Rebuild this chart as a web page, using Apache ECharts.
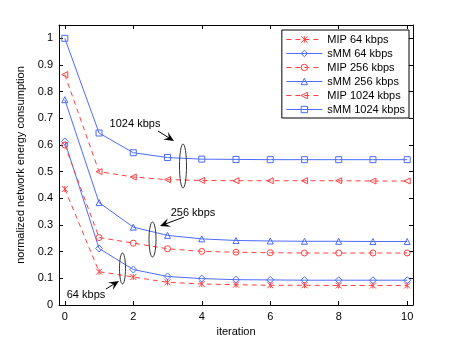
<!DOCTYPE html>
<html>
  <head>
    <meta charset="utf-8" />
    <title>ECharts</title>
    <script src="https://cdn.jsdelivr.net/npm/echarts@6/dist/echarts.min.js"></script>
  </head>
  <body style="margin:0;background:#fff">
    <div id="main" style="width: 457px;height:343px;"></div>
    <script type="text/javascript">
      var myChart = echarts.init(document.getElementById('main'));

      // iteration index
      var iterations = [0, 1, 2, 3, 4, 5, 6, 7, 8, 9, 10];
      var xTicks = [0, 2, 4, 6, 8, 10];
      var yTicks = [0, 0.1, 0.2, 0.3, 0.4, 0.5, 0.6, 0.7, 0.8, 0.9, 1];

      // values
      var mip64 = [0.435, 0.125, 0.105, 0.085, 0.079, 0.076, 0.074, 0.074, 0.073, 0.073, 0.073];
      var smm64 = [0.613, 0.212, 0.133, 0.107, 0.099, 0.095, 0.094, 0.093, 0.093, 0.093, 0.093];
      var mip256 = [0.600, 0.253, 0.232, 0.211, 0.201, 0.198, 0.196, 0.195, 0.195, 0.195, 0.195];
      var smm256 = [0.770, 0.384, 0.292, 0.261, 0.248, 0.242, 0.240, 0.239, 0.239, 0.238, 0.238];
      var mip1024 = [0.864, 0.500, 0.480, 0.470, 0.467, 0.466, 0.466, 0.466, 0.466, 0.465, 0.465];
      var smm1024 = [1.000, 0.645, 0.571, 0.553, 0.547, 0.546, 0.545, 0.545, 0.545, 0.545, 0.545];

      var red = '#ff4040';
      var blue = '#4d6bff';
      var font = 'Liberation Sans';

      function pairs(arr) {
        return iterations.map(function (x, i) { return [x, arr[i]]; });
      }

      // hollow markers, the line shows through them like in matlab
      function mk(name, data, color, dashed, symbol, size, rotate) {
        return {
          name: name,
          type: 'line',
          data: pairs(data),
          symbol: symbol,
          symbolSize: size,
          symbolRotate: rotate || 0,
          showAllSymbol: true,
          animation: false,
          lineStyle: { color: color, width: 1, type: dashed ? [5, 4] : 'solid' },
          itemStyle: { color: 'rgba(0,0,0,0)', borderColor: color, borderWidth: 1 },
          z: 3
        };
      }

      // arrow helper for the annotations
      function arrow(x1, y1, x2, y2) {
        var a = Math.atan2(y2 - y1, x2 - x1);
        var L = 10, W = 4.5;
        var bx = x2 - L * Math.cos(a), by = y2 - L * Math.sin(a);
        var mx = x2 - L * 0.6 * Math.cos(a), my = y2 - L * 0.6 * Math.sin(a);
        return [
          { type: 'line', shape: { x1: x1, y1: y1, x2: mx, y2: my }, style: { stroke: '#000', lineWidth: 1 } },
          { type: 'polygon', shape: { points: [
            [x2, y2],
            [bx - W * Math.sin(a), by + W * Math.cos(a)],
            [mx, my],
            [bx + W * Math.sin(a), by - W * Math.cos(a)]
          ] }, style: { fill: '#000' } }
        ];
      }

      function ellipse(cx, cy, rx, ry) {
        return { type: 'ellipse', shape: { cx: cx, cy: cy, rx: rx, ry: ry }, style: { fill: 'none', stroke: '#333', lineWidth: 1 }, z: 10 };
      }

      function label(txt, x, y) {
        return { type: 'text', x: x, y: y, style: { text: txt, font: '11px ' + font, fill: '#000', align: 'center', verticalAlign: 'middle' }, z: 10 };
      }

      var graphics = [].concat(
        [ellipse(183, 166, 3.5, 22), ellipse(152.5, 239.5, 3.5, 17.5), ellipse(122.5, 268.5, 3, 15.5)],
        [label('1024 kbps', 135, 124), label('256 kbps', 193, 213), label('64 kbps', 86, 295)],
        arrow(158, 131, 174, 141),
        arrow(184, 217, 160, 226),
        arrow(106, 289, 119, 281)
      );

      var axisCommon = {
        axisLine: { show: true, onZero: false, lineStyle: { color: '#000', width: 1 } },
        splitLine: { show: false }
      };

      var option = {
        backgroundColor: '#fff',
        animation: false,
        textStyle: { fontFamily: font },
        grid: { left: 59, right: 44, top: 25, bottom: 38 },
        legend: {
          orient: 'vertical',
          right: 48,
          top: 30,
          backgroundColor: '#fff',
          borderColor: '#000',
          borderWidth: 1,
          borderRadius: 0,
          padding: [4, 4, 3, 4],
          itemGap: 3,
          itemWidth: 36,
          itemHeight: 8,
          itemStyle: { borderWidth: 1 },
          lineStyle: { width: 1 },
          textStyle: { fontSize: 11, color: '#000', fontFamily: font },
          data: ['MIP 64 kbps', 'sMM 64 kbps', 'MIP 256 kbps', 'sMM 256 kbps', 'MIP 1024 kbps', 'sMM 1024 kbps']
        },
        xAxis: [
          Object.assign({}, axisCommon, {
            type: 'value', min: -0.17, max: 10.17,
            name: 'iteration', nameLocation: 'middle', nameGap: 16,
            nameTextStyle: { fontSize: 11, color: '#000' },
            axisLabel: { customValues: xTicks, fontSize: 11, color: '#000', margin: 6 },
            axisTick: { inside: true, length: 4, customValues: xTicks, lineStyle: { color: '#000' } }
          }),
          Object.assign({}, axisCommon, {
            type: 'value', min: -0.17, max: 10.17, position: 'top',
            axisLabel: { show: false },
            axisTick: { inside: true, length: 4, customValues: xTicks, lineStyle: { color: '#000' } }
          })
        ],
        yAxis: [
          Object.assign({}, axisCommon, {
            type: 'value', min: 0, max: 1.05,
            name: 'normalized network energy consumption', nameLocation: 'middle', nameGap: 28,
            nameTextStyle: { fontSize: 11, color: '#000' },
            axisLabel: { customValues: yTicks, fontSize: 11, color: '#000', margin: 6 },
            axisTick: { inside: true, length: 4, customValues: yTicks, lineStyle: { color: '#000' } }
          }),
          Object.assign({}, axisCommon, {
            type: 'value', min: 0, max: 1.05, position: 'right',
            axisLabel: { show: false },
            axisTick: { inside: true, length: 4, customValues: yTicks, lineStyle: { color: '#000' } }
          })
        ],
        series: [
          mk('MIP 64 kbps', mip64, red, true, 'path://M0,0L10,10M10,0L0,10M5,0L5,10', 6),
          mk('sMM 64 kbps', smm64, blue, false, 'diamond', 7),
          mk('MIP 256 kbps', mip256, red, true, 'circle', 6),
          mk('sMM 256 kbps', smm256, blue, false, 'triangle', 6),
          mk('MIP 1024 kbps', mip1024, red, true, 'triangle', 6, 90),
          mk('sMM 1024 kbps', smm1024, blue, false, 'rect', 6)
        ],
        graphic: graphics
      };

      myChart.setOption(option);
    </script>
  </body>
</html>
